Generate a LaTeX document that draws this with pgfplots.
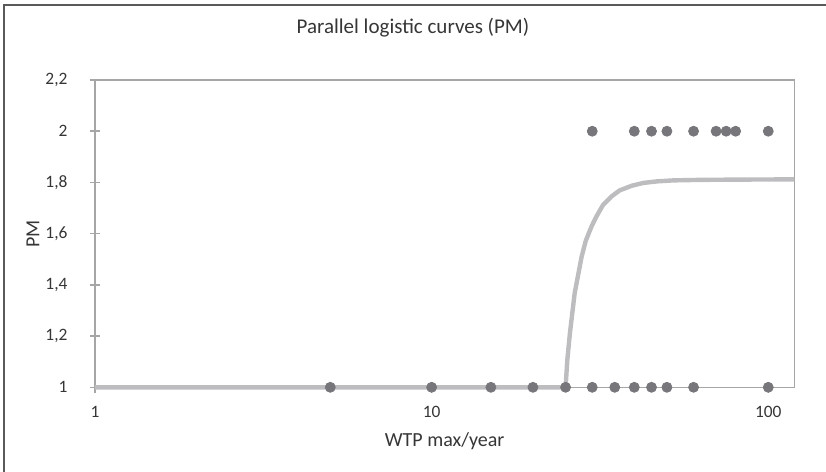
\documentclass[border=0pt]{standalone}
\usepackage{pgfplots}
\pgfplotsset{compat=1.18}
\usepackage{fontspec}
\setmainfont{Carlito}
\definecolor{axisgray}{HTML}{A6A6A6}
\definecolor{curvegray}{HTML}{BDBDC0}
\definecolor{dotgray}{HTML}{76767B}
\definecolor{txt}{HTML}{363636}
\definecolor{frame}{HTML}{5A5A5A}
\begin{document}
\begin{tikzpicture}
\useasboundingbox (-47.5pt,-42.35pt) rectangle (365.5pt,193.65pt);
\draw[line width=0.9pt, frame] (-45.5pt,-50pt) -- (-45.5pt,191.15pt) -- (370pt,191.15pt);
\begin{axis}[
  scale only axis, width=349.65pt, height=153.65pt,
  xmode=log, log basis x=10,
  xmin=1, xmax=119.5, ymin=1, ymax=2.2,
  xtick={1,10,100}, xticklabels={1,10,100}, xminorticks=false,
  ytick={1,1.2,1.4,1.6,1.8,2,2.2},
  yticklabels={1,{1,2},{1,4},{1,6},{1,8},2,{2,2}},
  tick pos=left,
  axis line style={axisgray, line width=0.75pt},
  tick style={axisgray, line width=0.75pt},
  tick align=center, major tick length=5.5pt,
  ticklabel style={font=\fontsize{8.7}{10}\selectfont, text=txt},
  yticklabel style={xshift=-7.5pt},
  xticklabel style={yshift=-3.3pt},
  xlabel={WTP max/year}, ylabel={PM},
  label style={font=\fontsize{10}{12}\selectfont, text=txt},
  xlabel style={at={(axis description cs:0.5,-0.1747)}, anchor=center},
  ylabel style={at={(axis description cs:-0.0887,0.5)}, anchor=center},
  clip=false,
]
\addplot[curvegray, line width=2.2pt, line join=round, line cap=butt] table {
x y
1 1
25 1
25.3 1.107
25.75 1.211
26.6 1.367
27.3 1.445
27.9 1.51
28.7 1.572
29.9 1.630
30.9 1.668
32.3 1.712
34.2 1.745
36.2 1.769
39.3 1.787
42.5 1.798
46.6 1.804
52.2 1.808
62.6 1.810
80 1.811
119.5 1.812
};
\addplot[only marks, mark=*, mark size=2.5pt, dotgray, mark options={fill=dotgray, draw=dotgray}] table {
x y
5 1
10 1
15 1
20 1
25 1
30 1
35 1
40 1
45 1
50 1
60 1
100 1
30 2
40 2
45 2
50 2
60 2
70 2
75 2
80 2
100 2
};
\end{axis}
\node[font=\fontsize{10.5}{12}\selectfont, text=txt] at (159pt,179.6pt) {Parallel logistic curves (PM)};
\end{tikzpicture}
\end{document}
